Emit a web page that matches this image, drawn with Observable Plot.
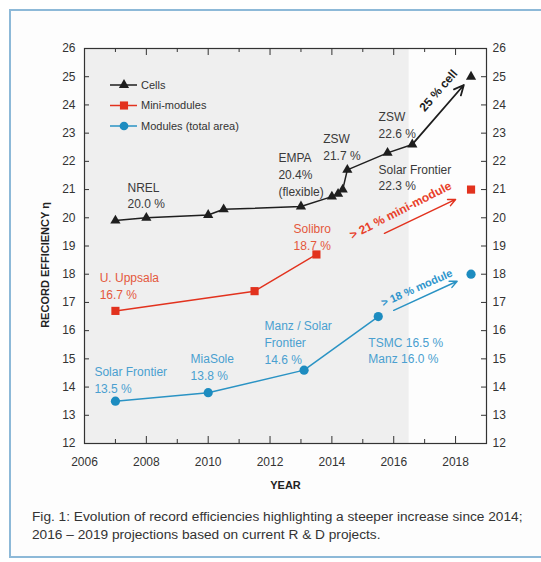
<!DOCTYPE html>
<html><head><meta charset="utf-8">
<script src="https://cdn.jsdelivr.net/npm/d3@7"></script>
<script src="https://cdn.jsdelivr.net/npm/@observablehq/plot@0.6"></script>
<style>
body{margin:0;background:#fff;font-family:"Liberation Sans",Arial,sans-serif;}
#box{position:absolute;left:9px;top:9px;width:560px;height:545px;border:2px solid #8db9d8;background:#fdfdfd;}
#chart{position:absolute;left:0;top:0;}
#legend{position:absolute;left:0;top:0;}
#caption{position:absolute;left:32px;top:508px;font-size:13.7px;line-height:18px;color:#333;white-space:nowrap;}
</style></head><body>
<div id="box"></div>
<div id="chart"></div>
<svg id="legend" width="300" height="150"></svg>
<div id="caption"></div>
<script>
// ---- data ----
const cellYears  = [2007, 2008, 2010, 2010.5, 2013, 2014, 2014.2, 2014.35, 2014.5, 2015.8, 2016.6];
const cellValues = [19.9, 20.0, 20.1, 20.3, 20.4, 20.75, 20.85, 21.0, 21.7, 22.3, 22.6];
const cellTargetYear = 2018.5, cellTargetValue = 25.0;

const miniYears  = [2007, 2011.5, 2013.5];
const miniValues = [16.7, 17.4, 18.7];
const miniTargetYear = 2018.5, miniTargetValue = 21.0;

const modYears  = [2007, 2010, 2013.1, 2015.5];
const modValues = [13.5, 13.8, 14.6, 16.5];
const modTargetYear = 2018.5, modTargetValue = 18.0;

const seriesNames = ["Cells", "Mini-modules", "Modules (total area)"];
const shadedYears = [2006, 2016.5];

const majorYears = [2006, 2008, 2010, 2012, 2014, 2016, 2018];
const minorYears = [2007, 2009, 2011, 2013, 2015, 2017];
const yTicks = [12,13,14,15,16,17,18,19,20,21,22,23,24,25,26];

const labelTexts = ["NREL\n20.0 %", "EMPA\n20.4%\n(flexible)", "ZSW\n21.7 %", "ZSW\n22.6 %", "Solar Frontier\n22.3 %",
  "U. Uppsala\n16.7 %", "Solibro\n18.7 %",
  "Solar Frontier\n13.5 %", "MiaSole\n13.8 %", "Manz / Solar\nFrontier\n14.6 %", "TSMC 16.5 %\nManz 16.0 %"];
const labelYears  = [2007.39, 2012.27, 2013.72, 2015.51, 2015.51, 2006.49, 2012.76, 2006.32, 2009.43, 2011.82, 2015.18];
const labelValues = [20.82, 21.56, 22.54, 23.31, 21.46, 17.6, 19.34, 14.29, 14.73, 15.62, 15.33];
const labelSeries = [0,0,0,0,0,1,1,2,2,2,2];

const trendTexts = ["25 % cell", "> 21 % mini-module", "> 18 % module"];
const trendTextYears = [2017.45, 2016.22, 2016.75];
const trendTextValues = [24.51, 20.26, 17.51];
const trendAngles = [-49, -27, -24];
// trend arrows for mini-modules and modules (start/end)
const miniArrow = [2015.7, 19.45, 2018.0, 20.65];
const modArrow  = [2016.0, 16.72, 2018.05, 17.75];

const xLabel = "YEAR";
const yLabel = "RECORD EFFICIENCY η";
const captionLines = ["Fig. 1: Evolution of record efficiencies highlighting a steeper increase since 2014;",
  "2016 – 2019 projections based on current R &amp; D projects."];

// ---- styles ----
const colors = ["#1e1e1e", "#e2321e", "#2a93c4"];
const labelColors = ["#3a3a3a", "#e4583c", "#4a9fd0"];
const trendColors = ["#1e1e1e", "#e8402a", "#2f95cc"];

const W = 541, Hs = 500, mL = 84, mR = 55, mT = 48, mB = 57;
const FW = W - mL - mR, FH = Hs - mT - mB;

const zip = (xs, ys) => xs.map((x, i) => ({x, y: ys[i]}));
const cells = zip(cellYears, cellValues);
const minis = zip(miniYears, miniValues);
const mods = zip(modYears, modValues);
const labels = labelTexts.map((t, i) => ({t, x: labelYears[i], y: labelValues[i], s: labelSeries[i]}));
const trends = trendTexts.map((t, i) => ({t, x: trendTextYears[i], y: trendTextValues[i], a: trendAngles[i], s: i}));

const chart = Plot.plot({
  width: W, height: Hs, marginLeft: mL, marginRight: mR, marginTop: mT, marginBottom: mB,
  x: {domain: [2006, 2019]},
  y: {domain: [12, 26]},
  style: {background: "transparent", fontFamily: "'Liberation Sans', Arial, sans-serif", fontSize: "12px", color: "#333"},
  marks: [
    Plot.rect([shadedYears], {x1: d => d[0], x2: d => d[1], y1: 12, y2: 26, fill: "#efefef"}),
    Plot.frame({stroke: "#333", strokeWidth: 1.2}),
    Plot.tickX(majorYears, {x: d => d, insetTop: FH - 7, stroke: "#333"}),
    Plot.tickX(minorYears, {x: d => d, insetTop: FH - 4, stroke: "#333"}),
    Plot.tickX(majorYears, {x: d => d, insetBottom: FH - 7, stroke: "#333"}),
    Plot.tickX(minorYears, {x: d => d, insetBottom: FH - 4, stroke: "#333"}),
    Plot.tickY(yTicks, {y: d => d, insetRight: FW - 5, stroke: "#333"}),
    Plot.tickY(yTicks, {y: d => d, insetLeft: FW - 5, stroke: "#333"}),
    Plot.axisX({anchor: "bottom", ticks: majorYears, tickSize: 0, tickPadding: 14, tickFormat: d => String(d), label: null, fill: "#333"}),
    Plot.axisY({anchor: "left", ticks: yTicks, tickSize: 0, tickPadding: 9, label: null, fill: "#333"}),
    Plot.axisY({anchor: "right", ticks: yTicks, tickSize: 0, tickPadding: 6, label: null, fill: "#333"}),
    Plot.text([xLabel], {text: d => d, frameAnchor: "bottom", dy: 45, fontWeight: "bold", fontSize: 11, fill: "#222"}),
    Plot.text([yLabel], {text: d => d, frameAnchor: "left", textAnchor: "middle", dx: -39, dy: 19, rotate: -90, fontWeight: "bold", fontSize: 11, fill: "#222"}),
    // lines
    Plot.line(cells, {x: "x", y: "y", stroke: colors[0], strokeWidth: 1.5}),
    Plot.line(minis, {x: "x", y: "y", stroke: colors[1], strokeWidth: 1.5}),
    Plot.line(mods, {x: "x", y: "y", stroke: colors[2], strokeWidth: 1.5}),
    // trend arrows
    Plot.arrow([{x1: cellYears[cellYears.length-1], y1: cellValues[cellValues.length-1], x2: cellTargetYear, y2: cellTargetValue}],
      {x1: "x1", y1: "y1", x2: "x2", y2: "y2", stroke: colors[0], strokeWidth: 1.8, headLength: 9, headAngle: 50, insetEnd: 11}),
    Plot.arrow([miniArrow], {x1: d => d[0], y1: d => d[1], x2: d => d[2], y2: d => d[3], stroke: colors[1], strokeWidth: 1.5, headLength: 8, headAngle: 50}),
    Plot.arrow([modArrow], {x1: d => d[0], y1: d => d[1], x2: d => d[2], y2: d => d[3], stroke: colors[2], strokeWidth: 1.5, headLength: 8, headAngle: 50}),
    // markers
    Plot.dot(cells, {x: "x", y: "y", symbol: "triangle", r: 3.8, fill: colors[0], stroke: null}),
    Plot.dot([{x: cellTargetYear, y: cellTargetValue}], {x: "x", y: "y", symbol: "triangle", r: 3.8, fill: colors[0], stroke: null}),
    Plot.dot(minis, {x: "x", y: "y", symbol: "square", r: 4.6, fill: colors[1], stroke: null}),
    Plot.dot([{x: miniTargetYear, y: miniTargetValue}], {x: "x", y: "y", symbol: "square", r: 4.6, fill: colors[1], stroke: null}),
    Plot.dot(mods, {x: "x", y: "y", symbol: "circle", r: 4.6, fill: "#1d8cc0", stroke: null}),
    Plot.dot([{x: modTargetYear, y: modTargetValue}], {x: "x", y: "y", symbol: "circle", r: 4.6, fill: "#1d8cc0", stroke: null}),
    // labels
    Plot.text(labels, {x: "x", y: "y", text: "t", fill: d => labelColors[d.s], textAnchor: "start", lineAnchor: "middle", lineHeight: 1.4, fontSize: 12}),
    Plot.text(trends, {x: "x", y: "y", text: "t", rotate: d => d.a, fill: d => trendColors[d.s], fontWeight: "bold", fontSize: d => d.s === 2 ? 11 : 12})
  ]
});
document.getElementById("chart").appendChild(chart);

// legend
const lg = d3.select("#legend");
const symbols = [d3.symbolTriangle, d3.symbolSquare, d3.symbolCircle];
const sizes = [45, 66, 60];
const symFill = ["#1e1e1e", "#e2321e", "#1d8cc0"];
seriesNames.forEach((name, i) => {
  const y = 85 + i * 20.5;
  lg.append("line").attr("x1", 110).attr("x2", 137).attr("y1", y).attr("y2", y).attr("stroke", colors[i]).attr("stroke-width", 1.5);
  lg.append("path").attr("d", d3.symbol(symbols[i], sizes[i])()).attr("transform", `translate(124,${y})`).attr("fill", symFill[i]);
  lg.append("text").attr("x", 141).attr("y", y).attr("dy", "0.35em").attr("font-size", 11).attr("fill", "#333")
    .attr("font-family", "'Liberation Sans', Arial, sans-serif").text(name);
});

document.getElementById("caption").innerHTML = captionLines.join("<br>");
</script>
</body></html>
